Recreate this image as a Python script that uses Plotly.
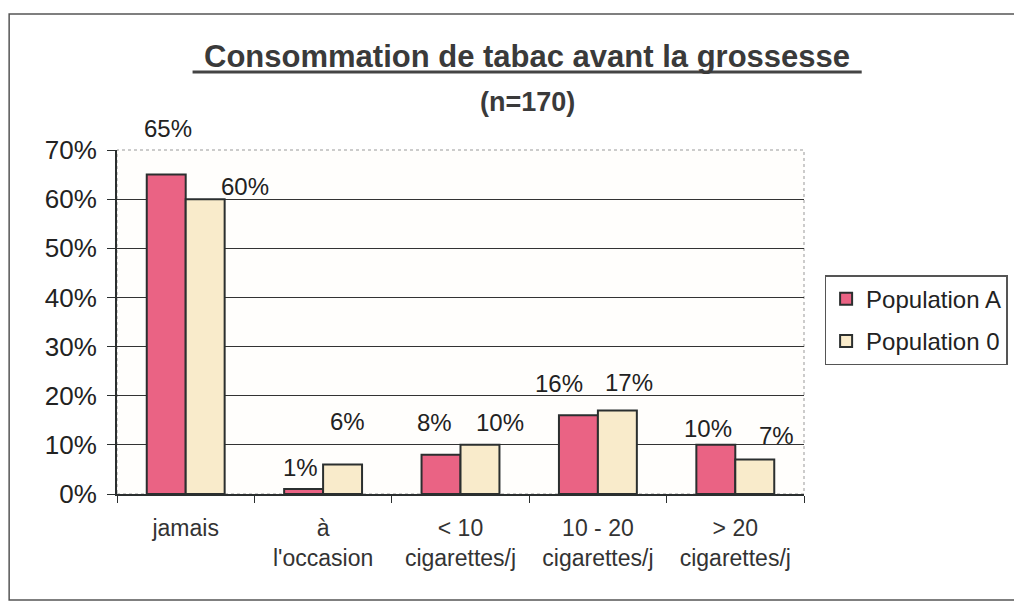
import plotly.graph_objects as go

# ----------------------- data ------------------
categories = ["jamais", "à<br>l'occasion", "< 10<br>cigarettes/j",
              "10 - 20<br>cigarettes/j", "> 20<br>cigarettes/j"]
pop_a = [65, 1, 8, 16, 10]
pop_0 = [60, 6, 10, 17, 7]
y_ticks = [0, 10, 20, 30, 40, 50, 60, 70]

# label offsets (px) from the top of each bar, like the Excel placement
shift_a = [(2, 46), (-3, 22), (-7, 32), (-19, 32), (-8, 16)]
shift_0 = [(40, 13), (5, 43), (20, 22), (12, 28), (22, 24)]

FONT = "Arial, Liberation Sans, sans-serif"
PINK = "#ea6384"
CREAM = "#f9ebcb"
EDGE = "#2b2f2f"

fig = go.Figure()
fig.add_trace(go.Bar(x=categories, y=pop_a, name="Population A", marker_color=PINK,
                     marker_line=dict(color=EDGE, width=2), legendgroup="a"))
fig.add_trace(go.Bar(x=categories, y=pop_0, name="Population 0", marker_color=CREAM,
                     marker_line=dict(color=EDGE, width=2), legendgroup="b"))

bar_off = 19.5
for i, c in enumerate(categories):
    for vals, shifts, off in ((pop_a, shift_a, -bar_off), (pop_0, shift_0, bar_off)):
        fig.add_annotation(x=c, y=vals[i], text=f"{vals[i]}%", showarrow=False,
                           xshift=off + shifts[i][0], yshift=shifts[i][1],
                           yanchor="middle", font=dict(size=24, color="#222", family=FONT))

# title
fig.add_annotation(xref="paper", yref="paper", x=0.597, y=1.273, showarrow=False,
                   xanchor="center", yanchor="middle",
                   text="<b>Consommation de tabac avant la grossesse</b>",
                   font=dict(size=31, color="#3a3a3a", family=FONT))
fig.add_annotation(xref="paper", yref="paper", x=0.597, y=1.14, showarrow=False,
                   xanchor="center", yanchor="middle",
                   text="<b>(n=170)</b>", font=dict(size=27, color="#3a3a3a", family=FONT))
fig.add_shape(type="line", xref="paper", yref="paper", x0=0.110, x1=1.084, y0=1.227, y1=1.227,
              line=dict(color="#444", width=3))

# plot area top/right border (dotted) and outer frame
fig.add_shape(type="rect", xref="paper", yref="paper", x0=0, x1=1, y0=0, y1=1,
              line=dict(color="#999", width=1, dash="dot"), layer="below")
fig.add_shape(type="rect", xref="paper", yref="paper", x0=-0.157, x1=1.307, y0=-0.308, y1=1.395,
              line=dict(color="#555", width=1.5))

# page body adds an 8px offset, so the figure is 8px smaller
fig.update_layout(
    width=1014, height=600,
    margin=dict(l=109, r=218, t=142, b=114),
    paper_bgcolor="white", plot_bgcolor="#fffefc",
    barmode="group", bargap=0.433, bargroupgap=0,
    font=dict(family=FONT, color="#222"),
    showlegend=True,
    legend=dict(x=1.03, y=0.636, xanchor="left", yanchor="top",
                bordercolor="#555", borderwidth=1.5, bgcolor="white",
                font=dict(size=24, color="#222"), itemwidth=30,
                tracegroupgap=8),
    xaxis=dict(showline=True, linecolor=EDGE, linewidth=2, ticks="outside",
               tickson="boundaries", ticklen=7, tickcolor=EDGE, ticklabelstandoff=12,
               tickfont=dict(size=23, color="#333")),
    yaxis=dict(range=[0, 70], tickvals=y_ticks, ticktext=[f"{t}%" for t in y_ticks],
               showline=True, linecolor=EDGE, linewidth=2, ticks="outside", ticklen=8,
               tickcolor=EDGE, showgrid=True, gridcolor="#333", gridwidth=1,
               ticklabelstandoff=5, zeroline=False, tickfont=dict(size=26, color="#222")),
)

fig.write_html("out.html")
